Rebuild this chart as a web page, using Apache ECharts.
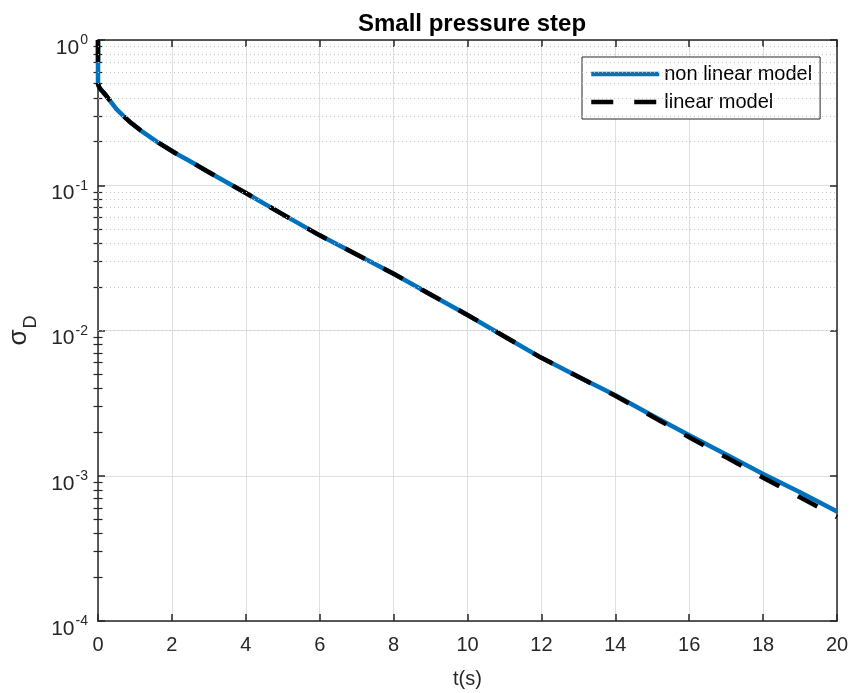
<!DOCTYPE html>
<html>
<head>
<meta charset="utf-8">
<script src="https://cdn.jsdelivr.net/npm/echarts@6/dist/echarts.min.js"></script>
<style>
html,body{margin:0;padding:0;background:#fff;}
#chart{width:853px;height:693px;}
</style>
</head>
<body>
<div id="chart"></div>
<script>
// ---- data ----
var titleText = 'Small pressure step';
var xName = 't(s)';
var seriesNames = ['non linear model', 'linear model'];
var tValues   = [0, 0, 0.03, 0.08, 0.15, 0.25, 0.35, 0.5, 0.7, 0.9, 1.15, 1.6, 2.1, 2.6, 3, 4, 5, 6, 7, 8, 9, 10, 11, 12, 13, 14, 15, 16, 17, 18, 19, 20];
var nonLinear = [1, 0.5, 0.475, 0.455, 0.435, 0.405, 0.375, 0.334, 0.298, 0.268, 0.239, 0.199, 0.166, 0.141, 0.123, 0.0885, 0.063, 0.0452, 0.0334, 0.0246, 0.0177, 0.0128, 0.0091, 0.00648, 0.0048, 0.00358, 0.0026, 0.0019, 0.0014, 0.00103, 0.00077, 0.000568];
var linearM   = [1, 0.5, 0.475, 0.455, 0.435, 0.405, 0.375, 0.334, 0.298, 0.268, 0.239, 0.199, 0.166, 0.141, 0.123, 0.0885, 0.063, 0.0452, 0.0334, 0.0246, 0.0177, 0.0128, 0.0091, 0.00648, 0.0048, 0.00355, 0.00256, 0.00184, 0.00134, 0.00097, 0.00071, 0.00052];
var xTicks = [0, 2, 4, 6, 8, 10, 12, 14, 16, 18, 20];
var yDecades = [1e-4, 1e-3, 1e-2, 1e-1, 1];
var minorFactors = [2, 3, 4, 5, 6, 7, 8, 9];

// ---- build ----
var minorValues = [];
for (var i = 0; i < yDecades.length - 1; i++) {
  for (var j = 0; j < minorFactors.length; j++) {
    minorValues.push(+(yDecades[i] * minorFactors[j]).toPrecision(6));
  }
}
function pairs(xs, ys) { return xs.map(function (x, k) { return [x, ys[k]]; }); }

var FONT = '"Liberation Sans", Arial, Helvetica, sans-serif';
var TXT = '#262626';
var AX = '#262626';
var BLUE = '#0072BD';
var LW = 4.5;
var DASH = [22, 21];

var chart = echarts.init(document.getElementById('chart'), null, {renderer: 'canvas'});

var baseX = {
  type: 'value', min: xTicks[0], max: xTicks[xTicks.length - 1], interval: 2,
  axisLine: {show: true, onZero: false, lineStyle: {color: AX, width: 1.5}},
  axisTick: {show: true, inside: true, length: 7, lineStyle: {color: AX, width: 1.5}}
};
var baseY = {
  type: 'log', logBase: 10, min: yDecades[0], max: yDecades[yDecades.length - 1], interval: 1,
  axisLine: {show: true, onZero: false, lineStyle: {color: AX, width: 1.5}},
  axisTick: {show: true, inside: true, length: 7, lineStyle: {color: AX, width: 1.5}}
};

var option = {
  backgroundColor: '#fff',
  animation: false,
  textStyle: {fontFamily: FONT, color: TXT},
  title: {
    text: titleText, left: 467, textAlign: 'center', top: 7,
    textStyle: {fontFamily: FONT, fontSize: 24, fontWeight: 'bold', color: '#000'}
  },
  grid: {left: 98, right: 16, top: 40, bottom: 72, containLabel: false, outerBoundsMode: 'none'},
  legend: {
    orient: 'vertical', left: 582, top: 57,
    padding: [7, 8, 7, 7], itemGap: 8, itemWidth: 68, itemHeight: 14,
    backgroundColor: '#fff', borderColor: AX, borderWidth: 1, borderRadius: 0,
    itemStyle: {opacity: 0},
    textStyle: {fontFamily: FONT, fontSize: 20, color: '#000', lineHeight: 20},
    data: [
      {name: seriesNames[0], lineStyle: {color: BLUE, width: LW, type: 'solid', cap: 'butt'}},
      {name: seriesNames[1], lineStyle: {color: '#000', width: LW, type: DASH, cap: 'butt'}}
    ]
  },
  xAxis: [
    Object.assign({}, baseX, {
      position: 'bottom', name: xName, nameLocation: 'middle', nameGap: 48,
      nameTextStyle: {fontFamily: FONT, fontSize: 20, color: TXT},
      axisLabel: {show: true, margin: 14, fontFamily: FONT, fontSize: 20, color: TXT},
      splitLine: {show: true, lineStyle: {color: '#dfdfdf', width: 1}}
    }),
    Object.assign({}, baseX, {
      position: 'top', axisLabel: {show: false}, splitLine: {show: false}
    })
  ],
  yAxis: [
    Object.assign({}, baseY, {
      position: 'left',
      name: '{s|σ}{d|D}', nameLocation: 'middle', nameRotate: 90, nameGap: 62,
      nameTextStyle: {
        color: TXT, fontSize: 26,
        rich: {
          s: {fontFamily: FONT, fontSize: 26, lineHeight: 26, color: TXT, verticalAlign: 'top', padding: [0, 1, 0, 0]},
          d: {fontFamily: FONT, fontSize: 18, lineHeight: 18, color: TXT, verticalAlign: 'top', padding: [16, 0, 0, 0]}
        }
      },
      axisLabel: {
        show: true, margin: 10,
        formatter: function (v) { return '{b|10}{s|' + Math.round(Math.log10(v)) + '}'; },
        rich: {
          b: {fontFamily: FONT, fontSize: 21, lineHeight: 21, color: TXT, verticalAlign: 'top', padding: [8, 0, 0, 0]},
          s: {fontFamily: FONT, fontSize: 14, lineHeight: 14, color: TXT, verticalAlign: 'top', padding: [4, 0, 0, 1]}
        }
      },
      splitLine: {show: true, lineStyle: {color: '#dfdfdf', width: 1}}
    }),
    Object.assign({}, baseY, {
      position: 'right', axisLabel: {show: false}, splitLine: {show: false}
    }),
    Object.assign({}, baseY, {
      position: 'left', axisLine: {show: false}, axisLabel: {show: false}, splitLine: {show: false},
      axisTick: {show: true, inside: true, length: 4.5, customValues: minorValues, lineStyle: {color: AX, width: 1.2}}
    }),
    Object.assign({}, baseY, {
      position: 'right', axisLine: {show: false}, axisLabel: {show: false}, splitLine: {show: false},
      axisTick: {show: true, inside: true, length: 4.5, customValues: minorValues, lineStyle: {color: AX, width: 1.2}}
    })
  ],
  series: [
    {
      name: '_minorgrid', type: 'line', data: [], xAxisIndex: 0, yAxisIndex: 0, z: 1, silent: true,
      markLine: {
        silent: true, symbol: ['none', 'none'], label: {show: false}, animation: false,
        lineStyle: {color: '#c4c4c4', width: 1, type: [1, 3]},
        emphasis: {disabled: true},
        data: minorValues.map(function (v) { return {yAxis: v}; })
      }
    },
    {
      name: seriesNames[0], type: 'line', xAxisIndex: 0, yAxisIndex: 0, z: 3,
      data: pairs(tValues, nonLinear), symbol: 'none', showSymbol: false, clip: false,
      color: BLUE,
      lineStyle: {color: BLUE, width: LW, cap: 'butt', join: 'round'}
    },
    {
      name: seriesNames[1], type: 'line', xAxisIndex: 0, yAxisIndex: 0, z: 4,
      data: pairs(tValues, linearM), symbol: 'none', showSymbol: false, clip: false,
      color: '#000000',
      lineStyle: {color: '#000000', width: LW, type: DASH, cap: 'butt', join: 'round'}
    }
  ]
};
chart.setOption(option);
</script>
</body>
</html>
